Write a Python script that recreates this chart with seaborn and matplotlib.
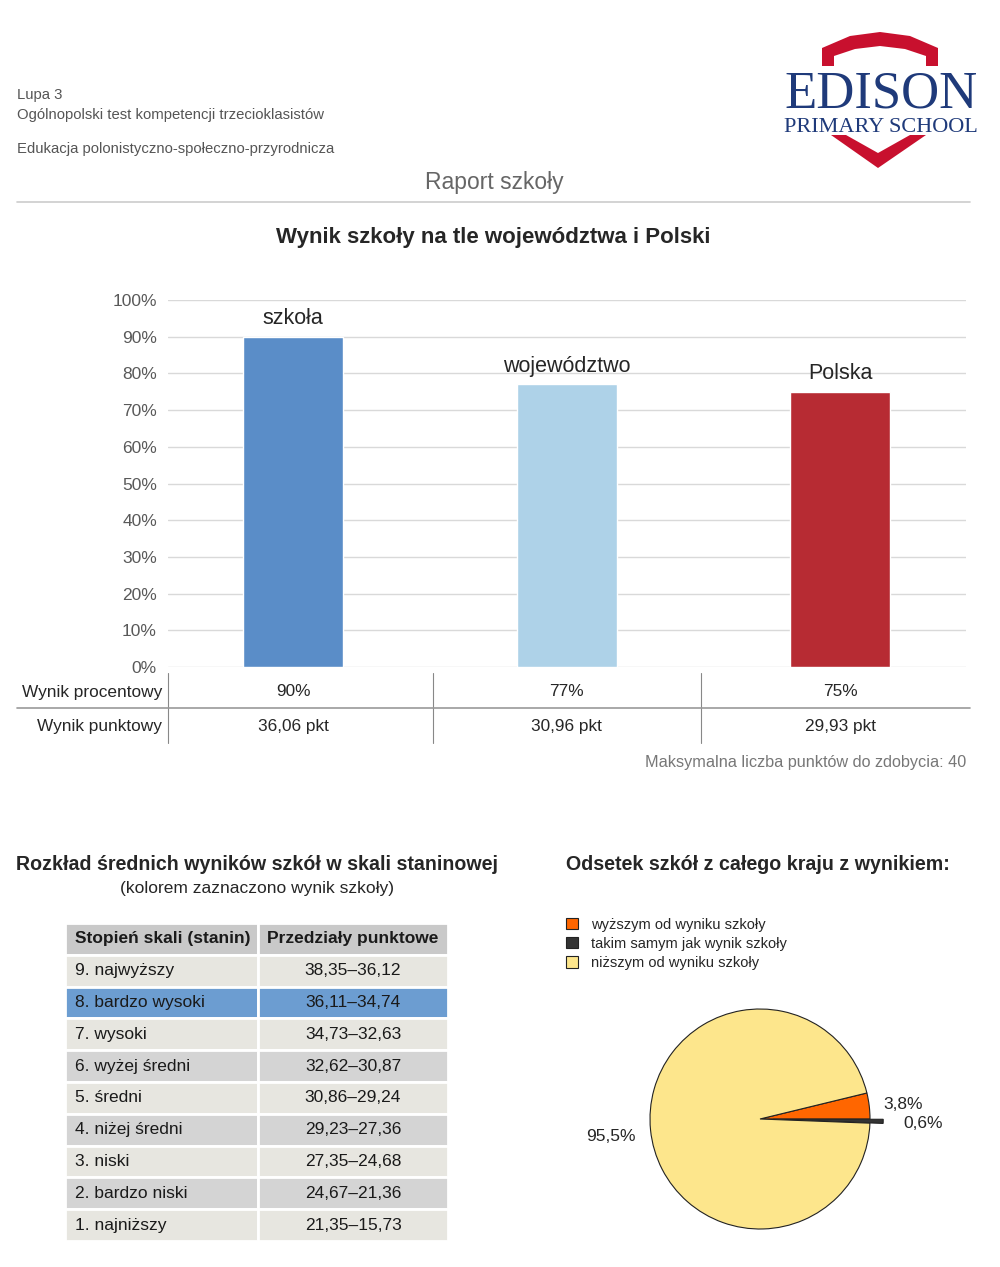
import numpy as np
import pandas as pd
import seaborn as sns
import matplotlib.pyplot as plt
from matplotlib.patches import Polygon, Patch
from matplotlib.lines import Line2D
from matplotlib.transforms import blended_transform_factory

sns.set_style("white")
plt.rcParams['font.family'] = ['Liberation Sans', 'DejaVu Sans']

# data
categories = ["szkoła", "województwo", "Polska"]
percent = [90, 77, 75]
points = [36.06, 30.96, 29.93]
max_points = 40
bar_colors = ["#5a8dc8", "#aed2e8", "#b72b33"]

stanine_names = ["9. najwyższy", "8. bardzo wysoki", "7. wysoki", "6. wyżej średni",
                 "5. średni", "4. niżej średni", "3. niski", "2. bardzo niski", "1. najniższy"]
stanine_ranges = ["38,35–36,12", "36,11–34,74", "34,73–32,63", "32,62–30,87",
                  "30,86–29,24", "29,23–27,36", "27,35–24,68", "24,67–21,36", "21,35–15,73"]
school_stanine = 8

pie_labels = ["wyższym od wyniku szkoły", "takim samym jak wynik szkoły", "niższym od wyniku szkoły"]
pie_values = [3.8, 0.6, 95.5]
pie_colors = ["#ff6600", "#333333", "#fde68c"]

W, H = 1000, 1267
fig = plt.figure(figsize=(W / 100, H / 100), dpi=100)


def fx(px):
    return px / W


def fy(py):
    return 1 - py / H


def pct(v):
    return f"{v:.1f}".replace(".", ",") + "%"


# header
fig.text(fx(17), fy(95), "Lupa 3", fontsize=10.7, color="#555555", va="center")
fig.text(fx(17), fy(115), "Ogólnopolski test kompetencji trzecioklasistów", fontsize=10.7,
         color="#555555", va="center")
fig.text(fx(17), fy(149), "Edukacja polonistyczno-społeczno-przyrodnicza", fontsize=10.7,
         color="#555555", va="center")
fig.text(fx(494), fy(182), "Raport szkoły", fontsize=16.5, color="#666666", ha="center", va="center")
fig.add_artist(Line2D([fx(17), fx(970)], [fy(202), fy(202)], color="#cccccc", lw=1.2))

# logo
red = "#c8102e"
arch = [(822, 66), (822, 48), (850, 36), (880, 32), (910, 36), (938, 48), (938, 66),
        (926, 66), (926, 56), (905, 49), (880, 46), (855, 49), (834, 56), (834, 66)]
chevron = [(831, 135), (878, 168), (926, 135), (910, 135), (878, 153), (846, 135)]
for shape in [arch, chevron]:
    fig.add_artist(Polygon([(fx(a), fy(b)) for a, b in shape], closed=True,
                           transform=fig.transFigure, color=red, lw=0))
fig.text(fx(881), fy(108), "EDISON", family="Liberation Serif", fontsize=38,
         color="#1f3a7a", ha="center", va="baseline")
fig.text(fx(881), fy(132), "PRIMARY SCHOOL", family="Liberation Serif", fontsize=16,
         color="#1f3a7a", ha="center", va="baseline")

# bar chart
fig.text(fx(493), fy(238), "Wynik szkoły na tle województwa i Polski", fontsize=16,
         fontweight="bold", ha="center", va="center")

ax = fig.add_axes([fx(168), fy(667), fx(966) - fx(168), (667 - 300) / H])
df = pd.DataFrame({"kat": categories, "wynik": percent})
sns.barplot(data=df, x="kat", y="wynik", hue="kat", palette=bar_colors, width=0.366,
            legend=False, ax=ax, saturation=1)
ax.set_xlim(-0.457, 2.46)
ax.set_ylim(0, 100)
ax.set_yticks(range(0, 101, 10))
ax.set_yticklabels([f"{t}%" for t in range(0, 101, 10)], fontsize=12.5, color="#595959")
ax.set_xticks([])
ax.set_xlabel("")
ax.set_ylabel("")
ax.tick_params(axis="y", length=0, pad=8)
ax.yaxis.grid(True, color="#d9d9d9", lw=1)
ax.set_axisbelow(True)
sns.despine(ax=ax, left=True, bottom=True)
for i, (c, v) in enumerate(zip(categories, percent)):
    ax.text(i, v + 2.0, c, ha="center", va="bottom", fontsize=15.5)

# table under the bars
tr = blended_transform_factory(ax.transData, fig.transFigure)
fig.text(fx(162), fy(692), "Wynik procentowy", fontsize=12.4, ha="right", va="center")
fig.text(fx(162), fy(727), "Wynik punktowy", fontsize=12.4, ha="right", va="center")
for i in range(len(categories)):
    ax.text(i, fy(692), f"{percent[i]}%", transform=tr, ha="center", va="center", fontsize=12.4)
    ax.text(i, fy(727), f"{points[i]:.2f}".replace(".", ",") + " pkt", transform=tr,
            ha="center", va="center", fontsize=12.4)
fig.add_artist(Line2D([fx(168), fx(168)], [fy(673), fy(743)], color="#888888", lw=0.8))
for xb in [0.51, 1.49]:
    ax.add_artist(Line2D([xb, xb], [fy(673), fy(743)], transform=tr, color="#888888",
                         lw=0.8, clip_on=False))
fig.add_artist(Line2D([fx(17), fx(970)], [fy(708), fy(708)], color="#999999", lw=1.2))
fig.text(fx(966), fy(763), f"Maksymalna liczba punktów do zdobycia: {max_points}",
         fontsize=11.7, color="#777777", ha="right", va="center")

# stanine table
fig.text(fx(257), fy(865), "Rozkład średnich wyników szkół w skali staninowej", fontsize=14.1,
         fontweight="bold", ha="center", va="center")
fig.text(fx(257), fy(889), "(kolorem zaznaczono wynik szkoły)", fontsize=12.5,
         ha="center", va="center")

tax = fig.add_axes([fx(65), fy(1241), fx(448) - fx(65), (1241 - 923) / H])
tax.axis("off")
cell_text = [[n, r] for n, r in zip(stanine_names, stanine_ranges)]
colours = []
for k, n in enumerate(stanine_names):
    if int(n.split(".")[0]) == school_stanine:
        col = "#6c9dd1"
    elif k % 2 == 0:
        col = "#e7e6e0"
    else:
        col = "#d4d4d4"
    colours.append([col, col])
tab = tax.table(cellText=cell_text, cellColours=colours,
                colLabels=["Stopień skali (stanin)", "Przedziały punktowe"],
                colColours=["#c9c9c9", "#c9c9c9"], colWidths=[0.504, 0.496],
                cellLoc="center", bbox=[0, 0, 1, 1])
tab.auto_set_font_size(False)
tab.set_fontsize(12.5)
for (r, c), cell in tab.get_celld().items():
    cell.set_edgecolor("white")
    cell.set_linewidth(2)
    cell.get_text().set_color("#1a1a1a")
    if r == 0:
        cell.get_text().set_fontweight("bold")
    if c == 0:
        cell.get_text().set_ha("left")
        cell.PAD = 0.05

# pie chart
fig.text(fx(758), fy(865), "Odsetek szkół z całego kraju z wynikiem:", fontsize=14.1,
         fontweight="bold", ha="center", va="center")
pax = fig.add_axes([fx(650), fy(1229), fx(870) - fx(650), 220 / H])
wedges, texts = pax.pie(pie_values, labels=[pct(v) for v in pie_values], colors=pie_colors,
                        startangle=pie_values[0] * 3.6, counterclock=False,
                        explode=[0, 0.12, 0], labeldistance=1.13,
                        textprops={"fontsize": 12.5},
                        wedgeprops={"edgecolor": "#222222", "linewidth": 0.8})
# small nudges so the labels sit where the reference puts them
texts[1].set_position((1.3, -0.04))
texts[2].set_position((-1.13, -0.16))
pax.set_xlim(-1, 1)
pax.set_ylim(-1, 1)
pax.set_aspect("equal")

handles = [Patch(facecolor=c, edgecolor="#222222", lw=0.8) for c in pie_colors]
fig.legend(handles, pie_labels, loc="upper left", bbox_to_anchor=(fx(560), fy(912)),
           frameon=False, fontsize=10.5, handlelength=0.8, handleheight=0.8,
           handletextpad=0.9, labelspacing=0.35, borderaxespad=0)

fig.savefig("out.png", dpi=100)
